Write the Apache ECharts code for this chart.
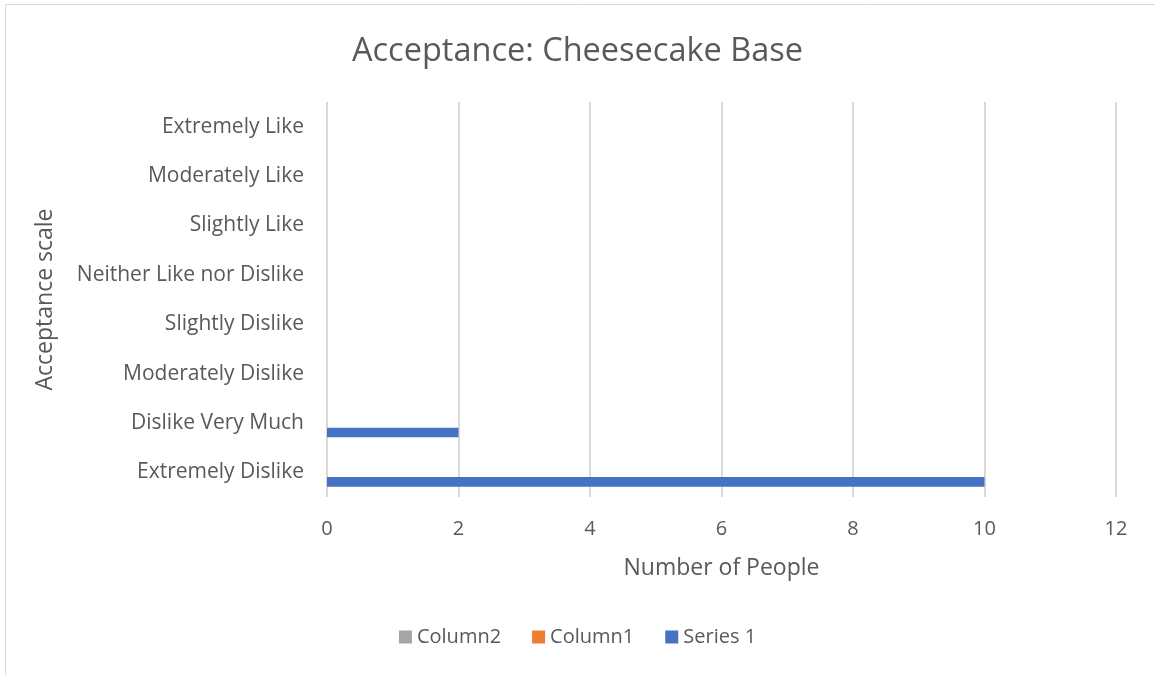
<!DOCTYPE html>
<html>
<head>
<meta charset="utf-8">
<script src="https://cdn.jsdelivr.net/npm/echarts@6/dist/echarts.min.js"></script>
<style>
  html, body { margin: 0; padding: 0; background: #ffffff; }
  #chart { width: 1155px; height: 675px; }
</style>
</head>
<body>
<div id="chart"></div>
<script>
const categories = [
  'Extremely Dislike',
  'Dislike Very Much',
  'Moderately Dislike',
  'Slightly Dislike',
  'Neither Like nor Dislike',
  'Slightly Like',
  'Moderately Like',
  'Extremely Like'
];
const series1Values = [10, 2, 0, 0, 0, 0, 0, 0];
const column1Values = [null, null, null, null, null, null, null, null];
const column2Values = [null, null, null, null, null, null, null, null];
const xTicks = [0, 2, 4, 6, 8, 10, 12];

const FONT = 'Open Sans';
const chart = echarts.init(document.getElementById('chart'));
chart.setOption({
  backgroundColor: '#ffffff',
  animation: false,
  graphic: [{
    type: 'rect',
    shape: { x: 5.5, y: 4.5, width: 1300, height: 900 },
    style: { fill: 'none', stroke: '#d9d9d9', lineWidth: 1 },
    silent: true,
    z: -10
  }],
  title: {
    text: 'Acceptance: Cheesecake Base',
    left: 'center',
    top: 30,
    textStyle: { fontFamily: FONT, fontSize: 32.5, fontWeight: 'normal', color: '#595959' }
  },
  legend: {
    data: ['Column2', 'Column1', 'Series 1'],
    bottom: 23,
    left: 'center',
    itemWidth: 13,
    itemHeight: 13,
    itemGap: 31,
    icon: 'rect',
    textStyle: { fontFamily: FONT, fontSize: 20, color: '#595959' }
  },
  grid: { left: 327, right: 39, top: 102, bottom: 178, containLabel: false },
  xAxis: {
    type: 'value',
    min: xTicks[0],
    max: xTicks[xTicks.length - 1],
    interval: 2,
    name: 'Number of People',
    nameLocation: 'middle',
    nameGap: 60,
    nameTextStyle: { fontFamily: FONT, fontSize: 23, color: '#595959' },
    axisLine: { show: false },
    axisTick: { show: false },
    axisLabel: { fontFamily: FONT, fontSize: 20, color: '#595959', margin: 22 },
    splitLine: { show: true, lineStyle: { color: '#d9d9d9', width: 2 } }
  },
  yAxis: {
    type: 'category',
    data: categories,
    name: 'Acceptance scale',
    nameLocation: 'middle',
    nameGap: 270,
    nameRotate: 90,
    nameTextStyle: { fontFamily: FONT, fontSize: 23, color: '#595959' },
    axisLine: { show: false },
    axisTick: { show: false },
    axisLabel: { fontFamily: FONT, fontSize: 21, color: '#595959', margin: 23, padding: [3, 0, 0, 0] },
    splitLine: { show: false }
  },
  series: [
    { name: 'Column2', type: 'bar', data: column2Values, itemStyle: { color: '#a5a5a5' }, barGap: '0%', barCategoryGap: '42%' },
    { name: 'Column1', type: 'bar', data: column1Values, itemStyle: { color: '#ed7d31' }, barGap: '0%', barCategoryGap: '42%' },
    { name: 'Series 1', type: 'bar', data: series1Values, itemStyle: { color: '#4472c4' }, barGap: '0%', barCategoryGap: '42%' }
  ]
});
</script>
</body>
</html>
